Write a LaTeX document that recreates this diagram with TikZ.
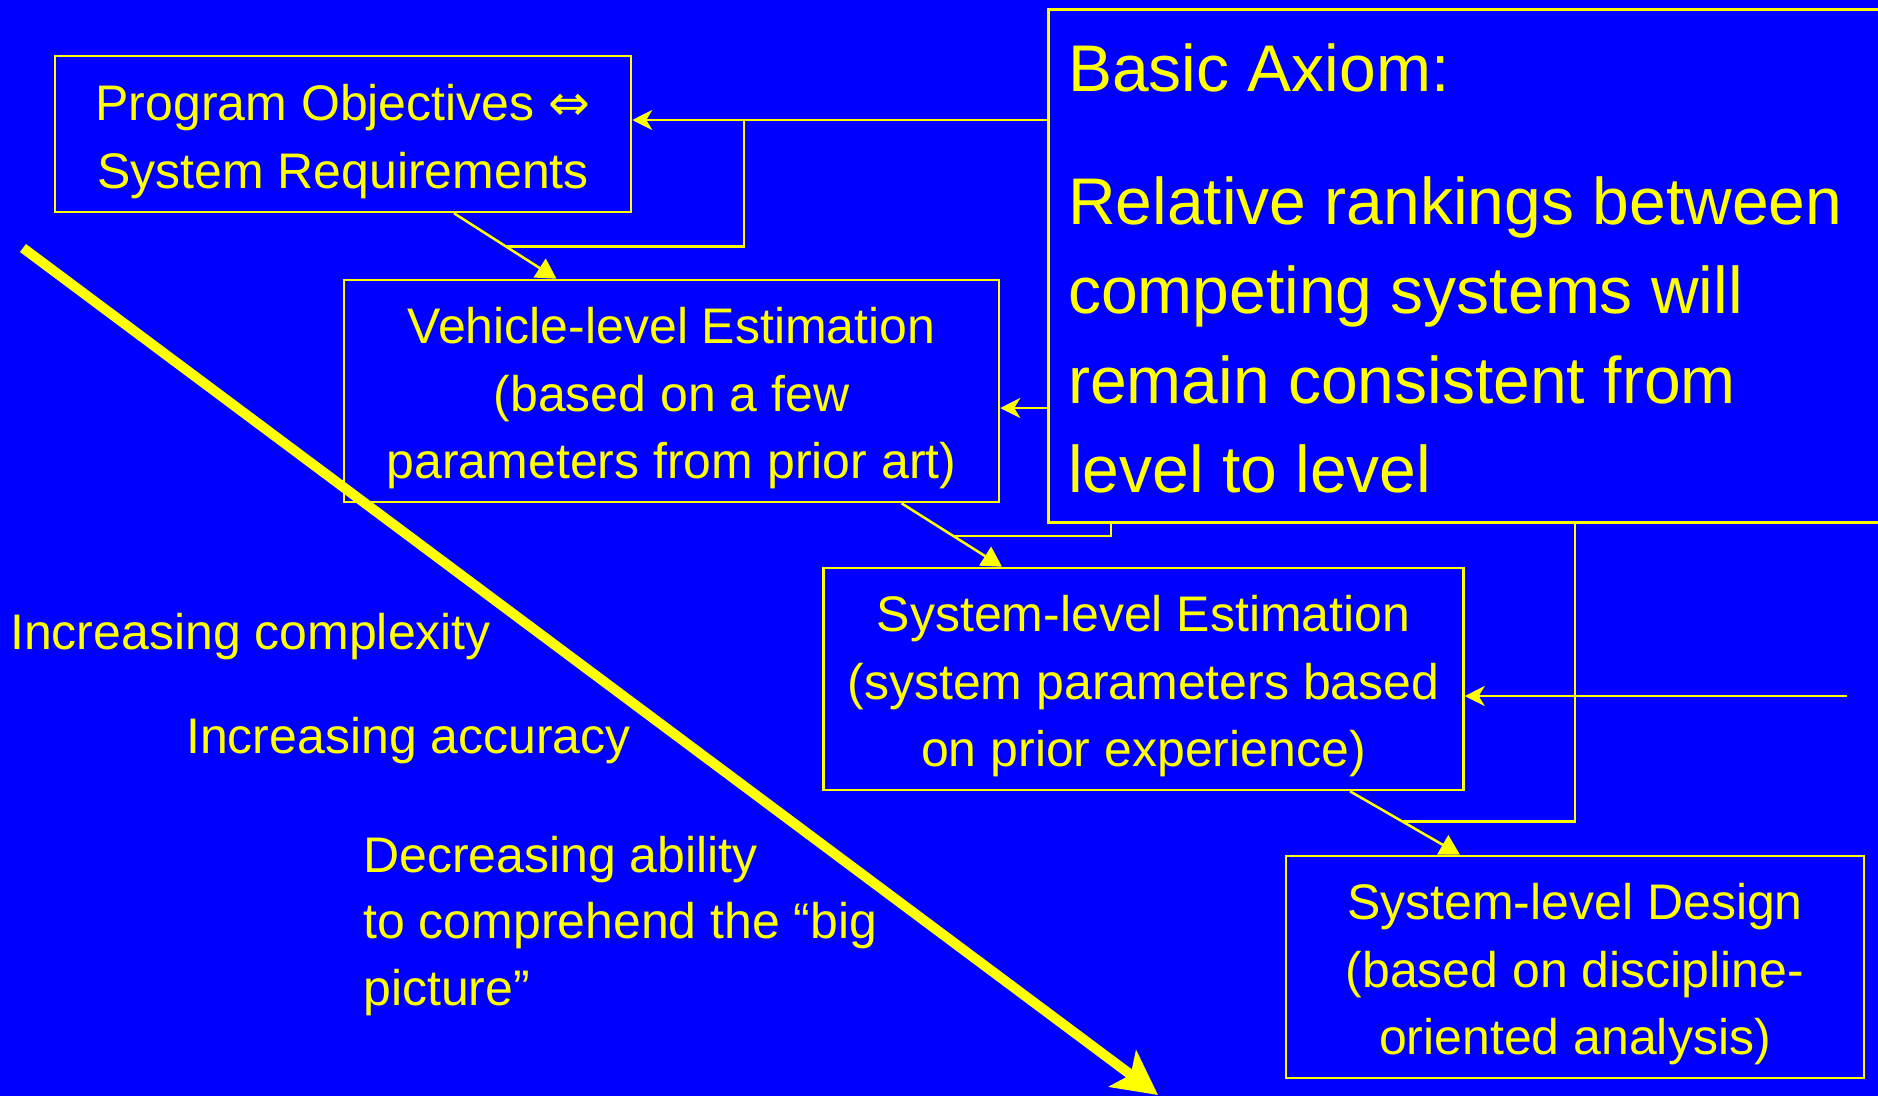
\documentclass[tikz,border=0pt]{standalone}
\usepackage{fontspec}
\setmainfont{Liberation Sans}
\newfontfamily\arrowfont{DejaVu Sans}
\usetikzlibrary{arrows.meta}
\definecolor{slideblue}{RGB}{0,0,255}
\definecolor{slideyellow}{RGB}{255,255,0}
\newcommand\firstline{\rule{0pt}{51pt}}

\begin{document}
\begin{tikzpicture}
  [
    x = 1pt, y = -1pt,
    box/.style = {draw = slideyellow, line width = 2.5pt, text = slideyellow,
        align = center, inner sep = 0pt,
        font = \fontsize{50}{67.5}\selectfont},
    link/.style = {draw = slideyellow, line width = 2.5pt},
    flow/.style = {link, -{Triangle[length = 20pt, width = 22pt]}},
    back/.style = {link, -{Stealth[length = 20pt, width = 20pt, inset = 6pt]}},
    trend/.style = {draw = slideyellow, line width = 10pt,
        -{Stealth[length = 44pt, width = 45pt, inset = 10pt]}},
    note/.style = {text = slideyellow, inner sep = 0pt, align = left,
        font = \fontsize{50}{66.5}\selectfont},
    axiom/.style = {text = slideyellow, inner sep = 0pt, align = left,
        font = \fontsize{66}{89.5}\selectfont},
  ]

  \useasboundingbox (0,0) rectangle (1878,1096);
  \clip (0,0) rectangle (1878,1096);
  \fill [slideblue] (0,0) rectangle (1878,1096);

  % the levels
  \node [box, minimum width = 576pt, minimum height = 156pt] (objectives)
    at (343,134) {\firstline Program Objectives {\arrowfont ⇔}\\ System Requirements};
  \node [box, minimum width = 655pt, minimum height = 222pt] (vehicle)
    at (671.5,391) {\firstline Vehicle-level Estimation\\ (based on a few\\ parameters from prior art)};
  \node [box, minimum width = 640pt, minimum height = 222pt] (sysest)
    at (1143.5,679) {\firstline System-level Estimation\\ (system parameters based\\ on prior experience)};
  \node [box, minimum width = 578pt, minimum height = 222pt] (sysdesign)
    at (1575,967) {\firstline System-level Design\\ (based on discipline-\\ oriented analysis)};

  % the axiom
  \node [link, anchor = north west, minimum width = 1000pt, minimum height = 513pt]
    (basic) at (1047,8) {};
  \node [axiom, anchor = north west] (basictext) at (1068,43)
    {Basic Axiom:\\[43.5pt] Relative rankings between\\ competing systems will\\
     remain consistent from\\ level to level};

  % downward flow
  \draw [flow] ([xshift = 111pt]objectives.south)
    -- coordinate [pos = 0.51] (m1) ([xshift = -115pt]vehicle.north);
  \draw [flow] ([xshift = 230pt]vehicle.south)
    -- coordinate [pos = 0.515] (m2) ([xshift = -141.5pt]sysest.north);
  \draw [flow] ([xshift = 206.5pt]sysest.south)
    -- coordinate [pos = 0.48] (m3) ([xshift = -115pt]sysdesign.north);

  % feedback from the axiom
  \coordinate (tap1) at (744,120);
  \coordinate (tap2) at (1111,536);
  \coordinate (tap3) at (1575,823);
  \coordinate (lvl2) at (0,408);
  \coordinate (lvl3) at (1847,696);

  \draw [back] (basic.west |- tap1) -- (objectives.east |- tap1);
  \draw [link] (tap1) |- (m1);
  \draw [back] (basic.west |- lvl2) -- (vehicle.east |- lvl2);
  \draw [link] (basic.south -| tap2) |- (m2);
  \draw [link] (basic.south -| tap3) |- (m3);
  \draw [back] (lvl3) -- (sysest.east |- lvl3);

  % trend
  \coordinate (trendstart) at (23,248);
  \coordinate (trendend) at (1158,1095);
  \draw [trend] (trendstart) -- (trendend);

  \node [note, anchor = west] (complexity) at (10,637) {Increasing complexity};
  \node [note, anchor = west] (accuracy) at (186,741) {Increasing accuracy};
  \node [note, anchor = north west] (ability) at (363,836)
    {Decreasing ability\\ to comprehend the “big\\ picture”};

\end{tikzpicture}
\end{document}
